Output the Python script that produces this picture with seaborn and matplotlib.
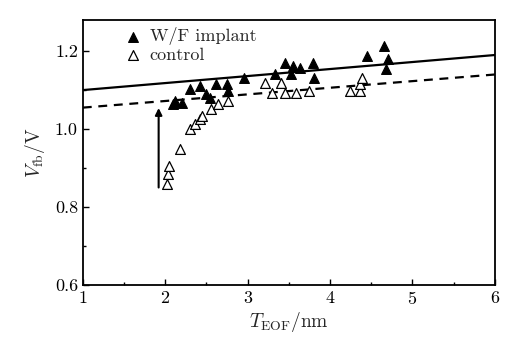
import matplotlib
matplotlib.use("Agg")
import matplotlib.pyplot as plt
import seaborn as sns
import pandas as pd
from matplotlib.ticker import MultipleLocator

# W/F implant (filled triangles)
wf_x = [2.09, 2.12, 2.20, 2.30, 2.42, 2.50, 2.54, 2.62, 2.75, 2.76, 2.96,
        3.33, 3.45, 3.53, 3.55, 3.63, 3.79, 3.81, 4.45, 4.66, 4.68, 4.70]
wf_y = [1.064, 1.072, 1.067, 1.103, 1.110, 1.090, 1.080, 1.116, 1.116, 1.098, 1.130,
        1.141, 1.169, 1.141, 1.162, 1.157, 1.169, 1.131, 1.187, 1.213, 1.154, 1.180]

# control (open triangles)
ct_x = [2.02, 2.03, 2.05, 2.18, 2.30, 2.36, 2.42, 2.45, 2.56, 2.64, 2.76,
        3.21, 3.30, 3.41, 3.45, 3.59, 3.75, 4.24, 4.36, 4.36, 4.39]
ct_y = [0.860, 0.885, 0.906, 0.949, 1.000, 1.013, 1.026, 1.034, 1.052, 1.064, 1.072,
        1.118, 1.093, 1.118, 1.093, 1.093, 1.098, 1.098, 1.098, 1.116, 1.131]

# fit lines (endpoints)
fit_x = [1.0, 6.0]
fit_wf = [1.10, 1.19]
fit_ct = [1.055, 1.14]

# arrow
arrow_x = 1.92
arrow_y0 = 0.85
arrow_y1 = 1.054

sns.set_style("ticks")
plt.rcParams['font.family'] = ['cmr10', 'DejaVu Serif']
plt.rcParams['mathtext.fontset'] = 'cm'
plt.rcParams['axes.formatter.use_mathtext'] = True

fig = plt.figure(figsize=(5.05, 3.38), dpi=100)
ax = fig.add_axes([0.164, 0.157, 0.816, 0.784])

df_wf = pd.DataFrame({"x": wf_x, "y": wf_y})
df_ct = pd.DataFrame({"x": ct_x, "y": ct_y})
df_fit = pd.DataFrame({"x": fit_x, "wf": fit_wf, "ct": fit_ct})

sns.lineplot(data=df_fit, x="x", y="wf", ax=ax, color="black", lw=1.6)
sns.lineplot(data=df_fit, x="x", y="ct", ax=ax, color="black", lw=1.6, linestyle=(0, (4, 3)))

sns.scatterplot(data=df_wf, x="x", y="y", ax=ax, marker="^", s=50,
                color="black", edgecolor="black", linewidth=0.8, label="W/F implant", zorder=3)
sns.scatterplot(data=df_ct, x="x", y="y", ax=ax, marker="^", s=50,
                facecolor="white", edgecolor="black", linewidth=0.9, label="control", zorder=3)

ax.annotate("", xy=(arrow_x, arrow_y1), xytext=(arrow_x, arrow_y0),
            arrowprops=dict(arrowstyle="-|>", color="black", lw=1.5, mutation_scale=10,
                            shrinkA=0, shrinkB=0))

ax.set_xlim(1, 6)
ax.set_ylim(0.6, 1.28)
ax.xaxis.set_major_locator(MultipleLocator(1))
ax.xaxis.set_minor_locator(MultipleLocator(0.5))
ax.yaxis.set_major_locator(MultipleLocator(0.2))
ax.yaxis.set_minor_locator(MultipleLocator(0.1))
ax.tick_params(which="both", direction="in", labelsize=13, colors="black")
ax.tick_params(which="major", length=4, width=1)
ax.tick_params(which="minor", length=2.5, width=1)
ax.yaxis.set_major_formatter(matplotlib.ticker.FormatStrFormatter("%.1f"))
for sp in ax.spines.values():
    sp.set_linewidth(1.3)
    sp.set_color("black")

ax.set_xlabel(r"$T_{\rm EOF}$/nm", fontsize=14, labelpad=2)
ax.set_ylabel(r"$V_{\rm fb}$/V", fontsize=14, labelpad=6)

leg = ax.legend(loc="upper left", bbox_to_anchor=(0.07, 1.02), frameon=False,
                fontsize=13, handletextpad=0.4, labelspacing=0.1, borderpad=0.2,
                handlelength=1.0)

fig.savefig("out.png", dpi=100)
